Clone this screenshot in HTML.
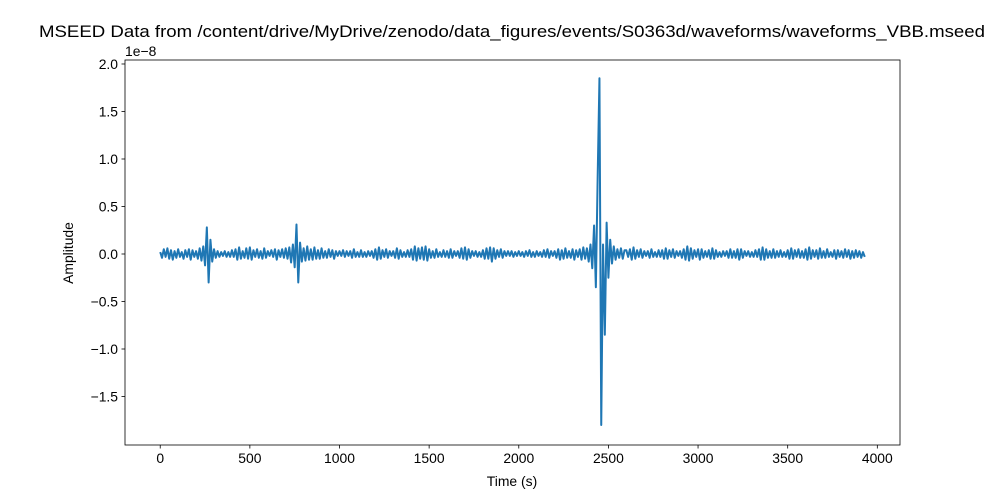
<!DOCTYPE html>
<html><head><meta charset="utf-8"><style>
body{margin:0;background:#fff}
svg{display:block;font-family:"Liberation Sans","DejaVu Sans",sans-serif}
</style></head><body>
<svg id="chart" width="1000" height="500" viewBox="0 0 1000 500" xmlns="http://www.w3.org/2000/svg">
<rect width="1000" height="500" fill="#fff"/>
<text x="512" y="37" text-anchor="middle" font-size="16.7" textLength="946" lengthAdjust="spacingAndGlyphs">MSEED Data from /content/drive/MyDrive/zenodo/data_figures/events/S0363d/waveforms/waveforms_VBB.mseed</text>
<g id="plot"></g>
<rect x="125" y="60" width="775" height="385" fill="none" stroke="#000" stroke-width="0.8"/>
<text x="125" y="56" font-size="13.9">1e−8</text>
<text x="512" y="486" text-anchor="middle" font-size="13.9">Time (s)</text>
<text transform="translate(73,253) rotate(-90)" text-anchor="middle" font-size="13.9">Amplitude</text>
</svg>
<script>
const xTicks=[0,500,1000,1500,2000,2500,3000,3500,4000];
const yTicks=[-1.5,-1.0,-0.5,0.0,0.5,1.0,1.5,2.0];
const yTickLabels=["−1.5","−1.0","−0.5","0.0","0.5","1.0","1.5","2.0"];
const sampleStep=10; // seconds between samples
const amplitudes=[ // units of 1e-9
0.2,-0.4,0.5,-0.3,0.6,-0.5,0.4,-0.6,0.3,-0.4,0.5,-0.3,0.2,-0.5,0.4,-0.3,0.5,-0.6,0.4,-0.3,
0.3,-0.5,0.6,-0.7,0.8,-1.2,2.8,-3.0,1.5,-0.8,0.5,-0.4,0.3,-0.3,0.2,-0.2,0.3,-0.3,0.2,-0.3,
0.4,-0.3,0.5,-0.6,0.7,-0.5,0.3,-0.4,0.6,-0.5,0.7,-0.6,0.4,-0.3,0.5,-0.4,0.3,-0.5,0.6,-0.4,
0.3,-0.2,0.4,-0.3,0.5,-0.6,0.4,-0.3,0.5,-0.4,0.6,-0.5,0.7,-0.9,1.0,-1.4,3.1,-3.0,1.2,-0.8,
0.6,-0.7,0.8,-0.6,0.5,-0.6,0.7,-0.5,0.4,-0.5,0.6,-0.4,0.3,-0.4,0.5,-0.3,0.4,-0.5,0.3,-0.2,
0.3,-0.2,0.4,-0.3,0.3,-0.2,0.3,-0.4,0.5,-0.3,0.2,-0.3,0.4,-0.3,0.2,-0.3,0.3,-0.2,0.3,-0.4,
0.5,-0.6,0.7,-0.5,0.4,-0.3,0.5,-0.4,0.3,-0.2,0.3,-0.4,0.6,-0.5,0.4,-0.3,0.2,-0.3,0.4,-0.3,
0.5,-0.6,0.8,-0.7,0.6,-0.5,0.7,-0.6,0.8,-0.7,0.5,-0.4,0.3,-0.4,0.5,-0.3,0.2,-0.3,0.4,-0.3,
0.3,-0.4,0.5,-0.4,0.3,-0.2,0.3,-0.4,0.6,-0.5,0.7,-0.6,0.5,-0.4,0.3,-0.2,0.3,-0.3,0.2,-0.3,
0.4,-0.5,0.6,-0.5,0.7,-0.8,0.6,-0.5,0.4,-0.3,0.5,-0.4,0.3,-0.2,0.3,-0.2,0.3,-0.3,0.2,-0.2,
0.3,-0.2,0.2,-0.3,0.3,-0.2,0.4,-0.3,0.2,-0.3,0.3,-0.2,0.2,-0.3,0.4,-0.3,0.5,-0.4,0.3,-0.2,
0.3,-0.4,0.5,-0.6,0.4,-0.5,0.6,-0.4,0.3,-0.4,0.5,-0.6,0.4,-0.3,0.5,-0.6,0.7,-0.5,0.6,-0.8,
1.0,-1.5,3.0,-3.5,8.0,18.5,-18.0,1.0,-8.5,3.3,-2.5,1.5,-1.0,0.8,-0.6,0.5,-0.4,0.6,-0.5,0.4,
0.4,-0.3,0.5,-0.6,0.7,-0.5,0.4,-0.3,0.5,-0.4,0.3,-0.2,0.3,-0.4,0.5,-0.3,0.2,-0.3,0.4,-0.3,
0.4,-0.5,0.6,-0.5,0.4,-0.3,0.5,-0.4,0.3,-0.2,0.3,-0.4,0.5,-0.6,0.8,-0.7,0.6,-0.5,0.4,-0.3,
0.5,-0.6,0.5,-0.4,0.3,-0.3,0.4,-0.5,0.6,-0.5,0.4,-0.3,0.2,-0.3,0.3,-0.2,0.3,-0.4,0.5,-0.4,
0.3,-0.4,0.5,-0.6,0.5,-0.4,0.3,-0.2,0.3,-0.3,0.2,-0.3,0.4,-0.3,0.5,-0.6,0.7,-0.6,0.5,-0.4,
0.3,-0.4,0.5,-0.4,0.3,-0.3,0.4,-0.3,0.2,-0.3,0.4,-0.5,0.6,-0.5,0.4,-0.3,0.5,-0.4,0.3,-0.4,
0.5,-0.6,0.7,-0.5,0.4,-0.3,0.4,-0.5,0.6,-0.4,0.3,-0.4,0.5,-0.3,0.2,-0.3,0.4,-0.5,0.4,-0.3,
0.3,-0.4,0.5,-0.3,0.4,-0.5,0.3,-0.4,0.4,-0.3,0.3,-0.4,0.2,-0.3];
const NS="http://www.w3.org/2000/svg";
const L=125,R=900,T=60,B=445;
const xMin=-196.5,xMax=4126.5,yMin=-2.0105,yMax=2.042;
const sx=v=>L+(v-xMin)/(xMax-xMin)*(R-L);
const sy=v=>B-(v-yMin)/(yMax-yMin)*(B-T);
const g=document.getElementById('plot');
function mk(t,a){const e=document.createElementNS(NS,t);for(const k in a)e.setAttribute(k,a[k]);return e;}
xTicks.forEach(v=>{
  const x=sx(v);
  const tk=mk('line',{x1:x,x2:x,y1:B,y2:B+3.5,stroke:'#000','stroke-width':0.8});
  
  
  g.appendChild(tk);
  const tx=mk('text',{x:x,y:B+18,'text-anchor':'middle','font-size':13.9});
  
  
  tx.textContent=v;g.appendChild(tx);
});
yTicks.forEach((v,i)=>{
  const y=sy(v);
  const tk=mk('line',{x1:L-3.5,x2:L,y1:y,y2:y,stroke:'#000','stroke-width':0.8});
  
  
  g.appendChild(tk);
  const tx=mk('text',{x:L-7,y:y+5,'text-anchor':'end','font-size':13.9});
  
  
  tx.textContent=yTickLabels[i];g.appendChild(tx);
});
const pts=amplitudes.map((a,i)=>sx(i*sampleStep).toFixed(2)+','+sy(a/10).toFixed(2)).join(' ');
const line=mk('polyline',{points:pts,fill:'none',stroke:'#1f77b4','stroke-width':2,'stroke-linejoin':'round'});


g.appendChild(line);
</script>
</body></html>
